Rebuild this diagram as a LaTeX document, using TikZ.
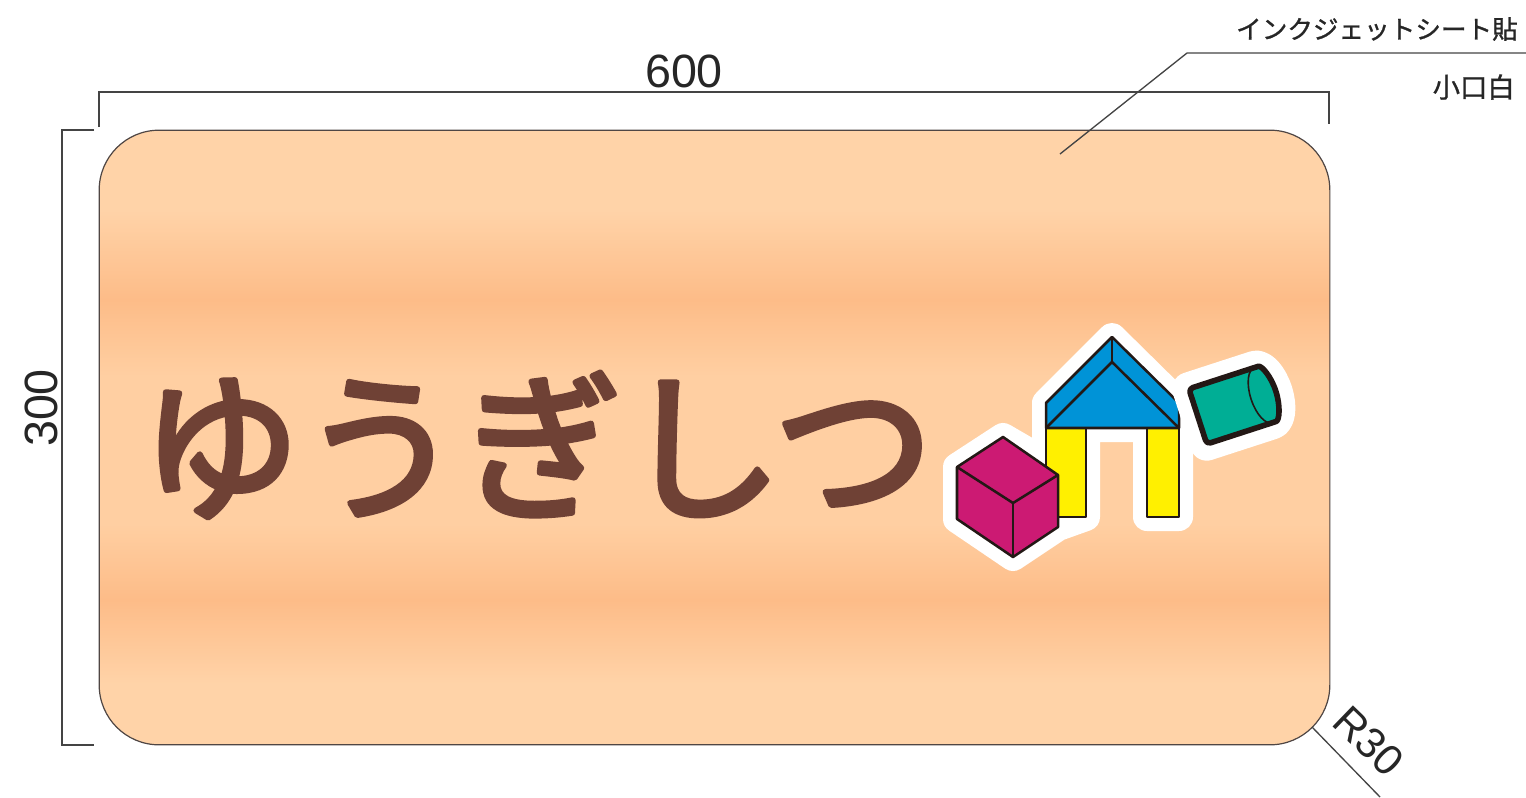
\documentclass[tikz,border=0pt]{standalone}
\usepackage{fontspec}
\setmainfont{Liberation Sans}
\newfontfamily\jpfont[FakeBold=1]{Noto Sans CJK JP}
\newfontfamily\titlefont[FakeBold=3.5]{Noto Sans CJK JP}
\usetikzlibrary{positioning}

\definecolor{inkline}{HTML}{231815}
\definecolor{dimline}{HTML}{444444}
\definecolor{titlebrown}{HTML}{6F4135}
\definecolor{roofblue}{HTML}{0093D7}
\definecolor{legyellow}{HTML}{FFF000}
\definecolor{cubered}{HTML}{CC1A73}
\definecolor{canteal}{HTML}{00AE95}
\definecolor{panellight}{HTML}{FFD3A8}
\definecolor{panelmid}{HTML}{FFCFA2}
\definecolor{paneldark}{HTML}{FDBC88}

\pgfdeclareverticalshading{panelshade}{100bp}{
    color(0bp)=(panellight);
    color(30bp)=(panellight);
    color(36.8bp)=(paneldark);
    color(43bp)=(panelmid);
    color(55bp)=(panelmid);
    color(61.2bp)=(paneldark);
    color(68.5bp)=(panellight);
    color(100bp)=(panellight)}

\newcommand{\canoutline}{(-37,0) -- (-37,-29) -- (32,-29) arc[x radius=13, y radius=29, start angle=-90, end angle=90]
    -- (-37,29) -- cycle}

\begin{document}
\begin{tikzpicture}[x=0.75pt,y=-0.75pt]
    \tikzset{
        panel/.style={
            rectangle,
            draw=inkline!80,
            line width=0.9pt,
            rounded corners=45pt,
            minimum width=923pt,
            minimum height=461pt,
            inner sep=0pt,
            shading=panelshade
        },
        dimpath/.style={draw=dimline, line width=1pt},
        dimlabel/.style={inner sep=0pt, text=black!85, font=\fontsize{35}{35}\selectfont},
        notelabel/.style={inner sep=0pt, text=black!85, font=\jpfont\fontsize{19.2}{20}\selectfont},
        halo/.style={draw=white, line width=21pt, line join=round, fill=white},
        block/.style={draw=inkline, line width=1.9pt, line join=round}
    }

    \useasboundingbox (0,0) rectangle (1526,797);

    \node[panel] (board) at (714.5,437.5) {};

    % dimensions
    \coordinate (widthstart) at (99,127);
    \coordinate (widthleft) at (99,92);
    \coordinate (widthright) at (1329,92);
    \coordinate (widthend) at (1329,124);
    \draw[dimpath] (widthstart) -- (widthleft) -- (widthright) -- (widthend);

    \coordinate (heightstart) at (94,130);
    \coordinate (heighttop) at (62,130);
    \coordinate (heightbottom) at (62,745);
    \coordinate (heightend) at (94,745);
    \draw[dimpath] (heightstart) -- (heighttop) -- (heightbottom) -- (heightend);

    \node[dimlabel] (widthlabel) at (684,71) {600};
    \node[dimlabel, rotate=90] (heightlabel) at (41,408) {300};

    % leader lines
    \coordinate (sheettip) at (1060,154);
    \coordinate (sheetbend) at (1187,53);
    \coordinate (sheetend) at (1526,53);
    \draw[dimpath] (sheettip) -- (sheetbend) -- (sheetend);
    \node[notelabel, anchor=east] (sheetlabel) at (1518,29) {インクジェットシート貼};
    \node[notelabel, anchor=east, font=\jpfont\fontsize{20.5}{21}\selectfont] (edgelabel) at (1515,87) {小口白};

    \coordinate (radiustip) at (1312,727);
    \coordinate (radiusend) at (1380,797);
    \draw[dimpath] (radiustip) -- (radiusend);
    \node[dimlabel, rotate=-44, font=\fontsize{32}{32}\selectfont] (radiuslabel) at (1369,741) {R30};

    % title
    \node[inner sep=0pt, text=titlebrown, font=\titlefont\fontsize{120.5}{121}\selectfont] (title) at (537,445)
        {\special{pdf:code 1 j 1 J}ゆうぎしつ};

    % white outline behind the blocks
    \path[halo] (1112,337) -- (1179,403) -- (1179,517) -- (1147,517) -- (1147,428) -- (1086,428)
        -- (1086,517) -- (1058,527) -- (1013,557) -- (957,519) -- (957,467) -- (1003,437)
        -- (1046,462) -- (1046,403) -- cycle;

    % legs
    \draw[block, fill=legyellow] (1046,428) rectangle (1086,517);
    \draw[block, fill=legyellow] (1147,428) rectangle (1179,517);

    % roof
    \draw[block, fill=roofblue] (1112,337) -- (1179,403) -- (1179,428) -- (1046,428) -- (1046,403) -- cycle;
    \draw[block] (1046,428) -- (1112,362) -- (1179,428);
    \draw[block] (1112,337) -- (1112,362);

    % cube
    \draw[block, fill=cubered] (1003,437) -- (1058,475) -- (1058,527) -- (1013,557) -- (957,519) -- (957,467) -- cycle;
    \draw[block] (957,467) -- (1013,503) -- (1058,475);
    \draw[block] (1013,503) -- (1013,557);

    % cylinder
    \begin{scope}[shift={(1233,405)}, rotate=18]
        \path[halo, line width=25pt] \canoutline;
        \draw[draw=inkline, line width=4.2pt, line join=round, rounded corners=3pt, fill=canteal] \canoutline;
        \draw[draw=inkline, line width=1.2pt] (32,0) ellipse[x radius=13, y radius=29];
    \end{scope}

\end{tikzpicture}
\end{document}
